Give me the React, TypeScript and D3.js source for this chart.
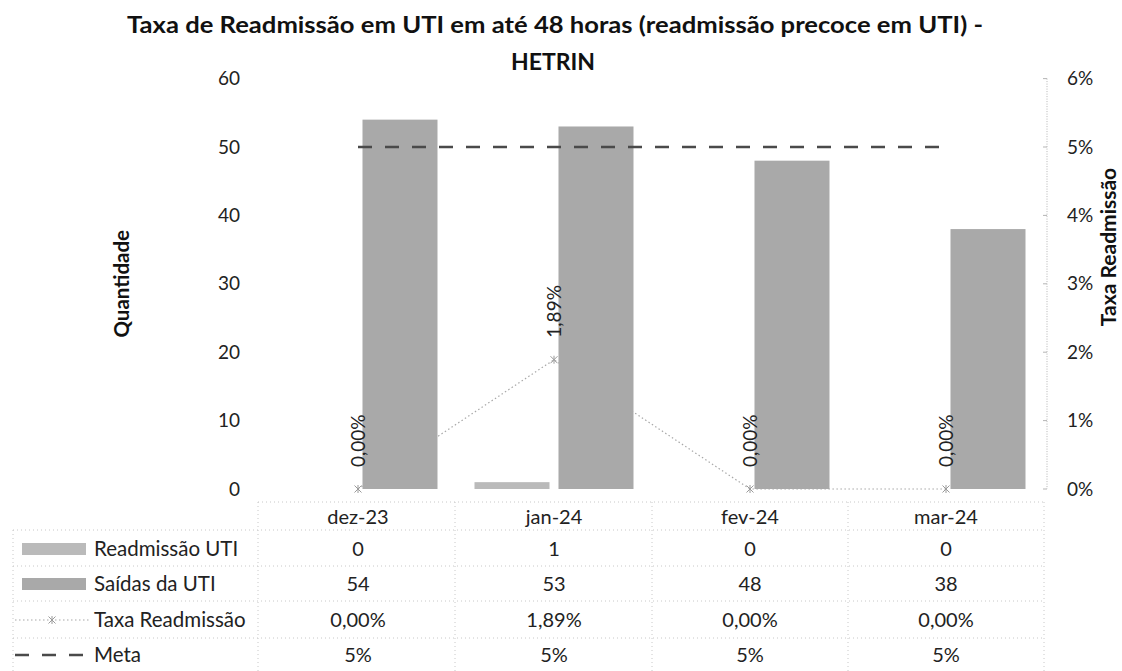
import React from "react";
import * as d3 from "d3";

const titleLines = ["Taxa de Readmissão em UTI em até 48 horas (readmissão precoce em UTI) -", "HETRIN"];
const categories = ["dez-23", "jan-24", "fev-24", "mar-24"];
const readmissao = [0, 1, 0, 0];
const saidas = [54, 53, 48, 38];
const taxa = [0, 1.89, 0, 0];
const meta = [5, 5, 5, 5];
const leftTicks = [0, 10, 20, 30, 40, 50, 60];
const rightTicks = [0, 1, 2, 3, 4, 5, 6];
const taxaLabels = ["0,00%", "1,89%", "0,00%", "0,00%"];
const metaLabels = ["5%", "5%", "5%", "5%"];
const seriesNames = ["Readmissão UTI", "Saídas da UTI", "Taxa Readmissão", "Meta"];

const W = 1122;
const H = 671;
const FONT = "Lato, 'Open Sans', sans-serif";

export default function App() {
  const x = d3.scaleBand<string>().domain(categories).range([260, 1044]);
  const bw = x.bandwidth();
  const x1 = d3
    .scaleBand<string>()
    .domain(["r", "s"])
    .range([18.5, bw - 18.5])
    .paddingInner(0.107);
  const y = d3.scaleLinear().domain([0, 60]).range([489, 78.6]);
  const y2 = d3.scaleLinear().domain([0, 6]).range([489, 78.6]);
  const cx = (c: string) => (x(c) as number) + bw / 2;

  const taxaLine = d3
    .line<number>()
    .x((_, i) => cx(categories[i]))
    .y((d) => y2(d));
  const metaLine = d3
    .line<number>()
    .x((_, i) => cx(categories[i]))
    .y((d) => y2(d));

  const rowsY = [517, 549, 584, 620, 655];
  const hLines = [502, 530, 566, 601, 638];
  const vLines = [258, 455, 652, 848, 1044];

  const star = (px: number, py: number, k: string) => (
    <g key={k} stroke="#9a9a9a" strokeWidth={1}>
      <line x1={px - 3.5} y1={py - 3.5} x2={px + 3.5} y2={py + 3.5} />
      <line x1={px - 3.5} y1={py + 3.5} x2={px + 3.5} y2={py - 3.5} />
      <line x1={px} y1={py - 4} x2={px} y2={py + 4} />
    </g>
  );

  return (
    <svg
      width={W}
      height={H}
      style={{ position: "absolute", left: 0, top: 0, background: "#fff" }}
      fontFamily={FONT}
    >
      <rect width={W} height={H} fill="#fff" />
      {/* Title */}
      <text
        x={127}
        y={33}
        textLength={856}
        lengthAdjust="spacingAndGlyphs"
        fontWeight="bold"
        fontSize={23}
        fill="#111"
      >
        {titleLines[0]}
      </text>
      <text x={553} y={70} textAnchor="middle" fontWeight="bold" fontSize={23} fill="#111">
        {titleLines[1]}
      </text>

      {/* Left axis ticks */}
      {leftTicks.map((t) => (
        <text key={"l" + t} x={240} y={y(t)} dy="0.35em" textAnchor="end" fontSize={19} fill="#222">
          {t}
        </text>
      ))}
      <text
        transform={`translate(122,${(y(0) + y(60)) / 2}) rotate(-90)`}
        textAnchor="middle"
        dy="0.35em"
        fontWeight="bold"
        fontSize={20.5}
        fill="#111"
      >
        Quantidade
      </text>

      {/* Right axis */}
      <line x1={1047} x2={1047} y1={y2(6)} y2={y2(0)} stroke="#b5b5b5" strokeDasharray="1,1.5" />
      {rightTicks.map((t) => (
        <g key={"r" + t}>
          <line x1={1043} x2={1047} y1={y2(t)} y2={y2(t)} stroke="#b5b5b5" />
          <text x={1067} y={y2(t)} dy="0.35em" textAnchor="start" fontSize={19} fill="#222">
            {t + "%"}
          </text>
        </g>
      ))}
      <text
        transform={`translate(1109,247) rotate(-90)`}
        textAnchor="middle"
        dy="0.35em"
        fontWeight="bold"
        fontSize={21}
        fill="#111"
      >
        Taxa Readmissão
      </text>

      {/* Taxa line (behind bars) */}
      <path d={taxaLine(taxa) || ""} fill="none" stroke="#a8a8a8" strokeWidth={1.2} strokeDasharray="1.5,2.5" />

      {/* Bars */}
      {categories.map((c, i) => (
        <g key={"b" + c}>
          <rect
            x={(x(c) as number) + (x1("r") as number)}
            y={y(readmissao[i])}
            width={x1.bandwidth()}
            height={y(0) - y(readmissao[i])}
            fill="#bababa"
          />
          <rect
            x={(x(c) as number) + (x1("s") as number)}
            y={y(saidas[i])}
            width={x1.bandwidth()}
            height={y(0) - y(saidas[i])}
            fill="#a9a9a9"
          />
        </g>
      ))}

      {/* Meta line */}
      <path d={metaLine(meta) || ""} fill="none" stroke="#4a4a4a" strokeWidth={2.5} strokeDasharray="14,13" />

      {/* Taxa markers and labels */}
      {taxa.map((v, i) => star(cx(categories[i]), y2(v), "m" + i))}
      {taxa.map((v, i) => (
        <text
          key={"tl" + i}
          transform={`translate(${cx(categories[i])},${y2(v) - 22}) rotate(-90)`}
          textAnchor="start"
          dy="0.35em"
          fontSize={19}
          fill="#222"
        >
          {taxaLabels[i]}
        </text>
      ))}

      {/* Data table */}
      <g stroke="#c8c8c8" strokeDasharray="1,3" strokeWidth={1}>
        {hLines.map((hy, i) => (
          <line key={"h" + i} x1={i === 0 ? 258 : 13} x2={1044} y1={hy} y2={hy} />
        ))}
        <line x1={13} x2={13} y1={530} y2={671} />
        {vLines.map((vx, i) => (
          <line key={"v" + i} x1={vx} x2={vx} y1={502} y2={671} />
        ))}
      </g>
      {categories.map((c) => (
        <text key={"c" + c} x={cx(c)} y={rowsY[0]} dy="0.35em" textAnchor="middle" fontSize={20} fill="#222">
          {c}
        </text>
      ))}
      {[readmissao.map(String), saidas.map(String), taxaLabels, metaLabels].map((row, r) =>
        row.map((v, i) => (
          <text
            key={"t" + r + i}
            x={cx(categories[i])}
            y={rowsY[r + 1]}
            dy="0.35em"
            textAnchor="middle"
            fontSize={20}
            fill="#222"
          >
            {v}
          </text>
        ))
      )}
      {/* Legend keys */}
      <rect x={22} y={rowsY[1] - 6} width={64} height={12} fill="#bababa" />
      <rect x={22} y={rowsY[2] - 6} width={64} height={12} fill="#a9a9a9" />
      <line x1={15} x2={90} y1={rowsY[3]} y2={rowsY[3]} stroke="#a8a8a8" strokeWidth={1.2} strokeDasharray="1.5,2.5" />
      {star(52, rowsY[3], "legstar")}
      <line x1={15} x2={88} y1={rowsY[4]} y2={rowsY[4]} stroke="#4a4a4a" strokeWidth={2.5} strokeDasharray="14,13" />
      {seriesNames.map((s, i) => (
        <text key={"s" + i} x={94} y={rowsY[i + 1]} dy="0.35em" fontSize={20.5} fill="#222">
          {s}
        </text>
      ))}
    </svg>
  );
}
